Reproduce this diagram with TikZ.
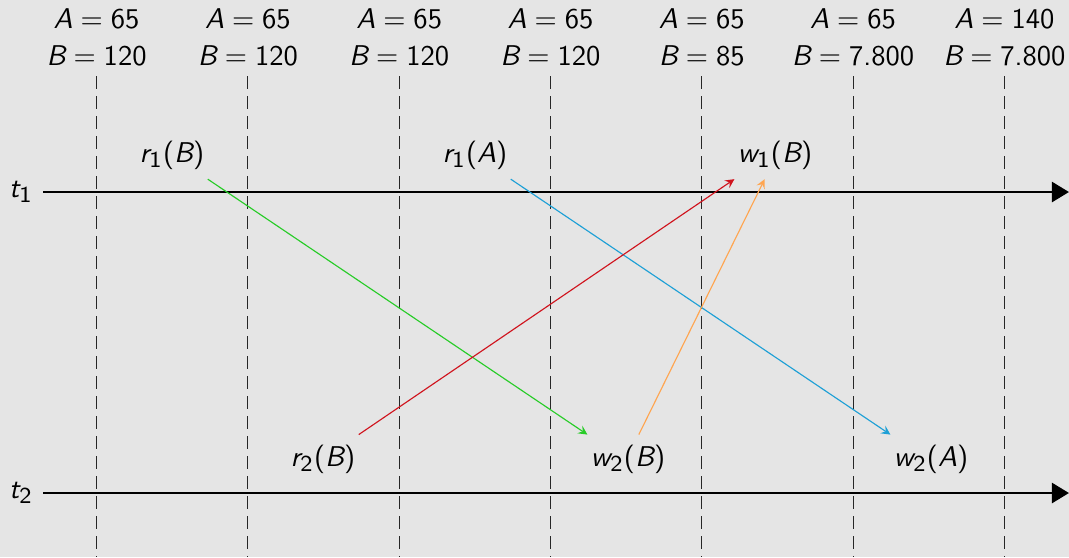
\documentclass[tikz,border=0pt]{standalone}
\usepackage{amsmath}
\renewcommand{\familydefault}{\sfdefault}
\usepackage[italic]{mathastext}
\usepackage{tikz}
\usetikzlibrary{arrows.meta}

\definecolor{slidebg}{RGB}{229,229,229}
\definecolor{rgreen}{RGB}{40,204,40}
\definecolor{rblue}{RGB}{30,160,214}
\definecolor{rred}{RGB}{208,20,30}
\definecolor{rorange}{RGB}{255,165,80}

\begin{document}
\begin{tikzpicture}[x=0.35pt, y=-0.35pt,
        state/.style={align=center, font=\fontsize{10}{13}\selectfont},
        event/.style={inner xsep=1pt, inner ysep=3.3pt},
        timeline/.style={line width=1pt, -{Triangle[length=6pt, width=7pt]}},
        cut/.style={black!85, dash pattern=on 4.5pt off 2.5pt},
        op/.style={-stealth, line width=0.4pt}]
        % Background
        \fill[slidebg] (0,0) rectangle (1069,557);
        \useasboundingbox (0,0) rectangle (1069,557);

        % Values of A and B with the cut lines
        \foreach \a/\b [count=\i from 0] in {65/120, 65/120, 65/120, 65/120, 65/85, 65/7.800, 140/7.800} {
            \node[state, anchor=south] (s\i) at (96.6+151.3*\i, 76) {$A = \a$\\$B = \b$};
            \coordinate (c\i) at (96.6+151.3*\i, 557);
            \draw[cut] (s\i.south) -- (c\i);
        }

        % Time lines
        \node (t1) at (21,192) {$t_1$};
        \node (t2) at (21,493) {$t_2$};
        \coordinate (e1) at (1069,192);
        \coordinate (e2) at (1069,493);
        \draw[timeline] (t1.east) -- (e1);
        \draw[timeline] (t2.east) -- (e2);

        % Operations
        \node[event, anchor=base] (r1B) at (172,162) {$r_1(B)$};
        \node[event, anchor=base] (r1A) at (475,162) {$r_1(A)$};
        \node[event, anchor=base] (w1B) at (775,162) {$w_1(B)$};
        \node[event, anchor=base] (r2B) at (323,466) {$r_2(B)$};
        \node[event, anchor=base] (w2B) at (628,466) {$w_2(B)$};
        \node[event, anchor=base] (w2A) at (931,466) {$w_2(A)$};

        % Conflicts
        \draw[op, rgreen] (r1B.south east) -- (w2B.north west);
        \draw[op, rblue] (r1A.south east) -- (w2A.north west);
        \draw[op, rred] (r2B.north east) -- (w1B.south west);
        \draw[op, rorange] (w2B.66) -- (w1B.247);
    \end{tikzpicture}
\end{document}
